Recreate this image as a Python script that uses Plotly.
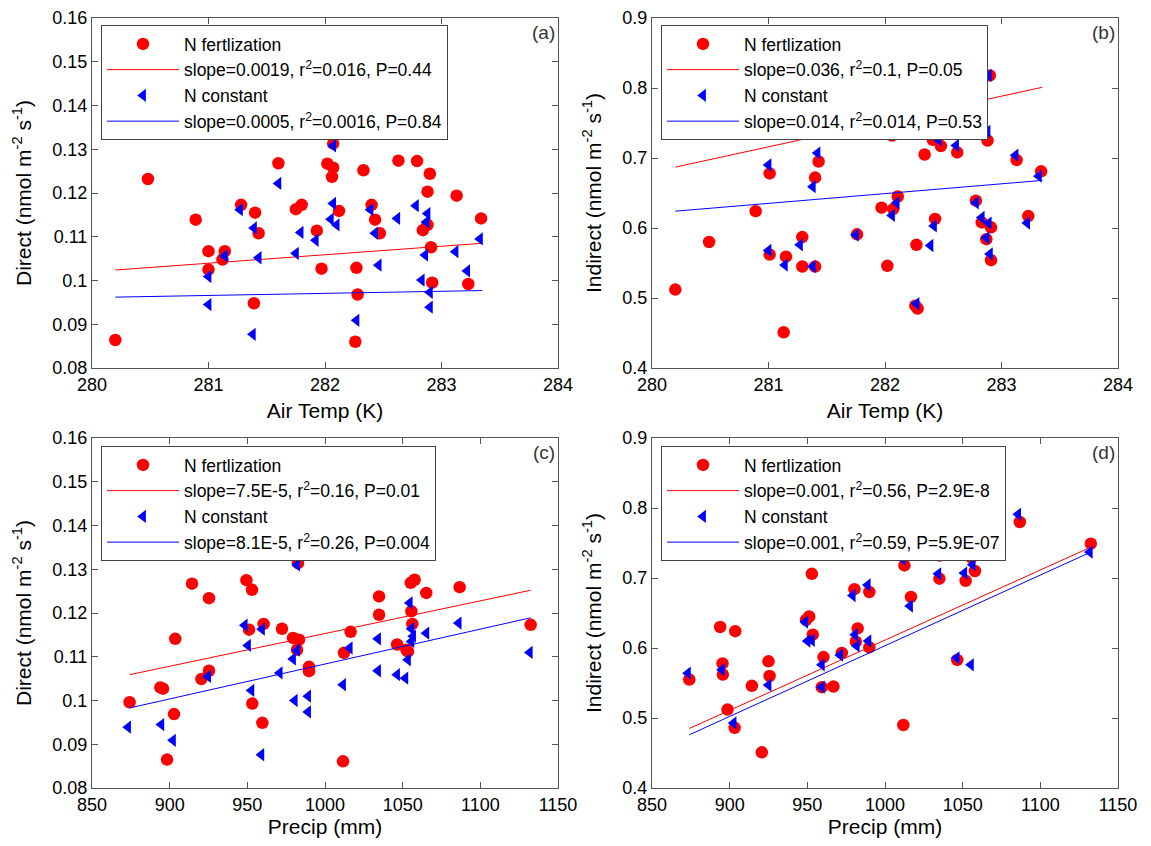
import plotly.graph_objects as go

# ---------------- data ----------------
# Panel (a): Direct vs Air Temp
a_fert_x = [280.20, 280.48, 280.89, 281.00, 281.00, 281.14, 281.12, 281.28, 281.40, 281.43, 281.39, 281.60, 281.75,
            281.80, 281.93, 281.97, 282.02, 282.07, 282.07, 282.06, 282.12, 282.27, 282.28, 282.26, 282.33, 282.40,
            282.43, 282.47, 282.63, 282.79, 282.90, 282.88, 282.84, 282.88, 282.91, 282.92, 283.13, 283.23, 283.34]
a_fert_y = [0.0864, 0.1232, 0.1139, 0.1067, 0.1025, 0.1067, 0.1048, 0.1173, 0.1155, 0.1108, 0.0948, 0.1268, 0.1163,
            0.1173, 0.1114, 0.1027, 0.1267, 0.1313, 0.1258, 0.1237, 0.1159, 0.1029, 0.0968, 0.0860, 0.1252, 0.1173,
            0.1139, 0.1108, 0.1274, 0.1273, 0.1244, 0.1203, 0.1115, 0.1127, 0.1076, 0.0995, 0.1194, 0.0992, 0.1142]
a_const_x = [281.27, 281.39, 281.43, 281.00, 281.00, 281.14, 281.38, 281.60, 281.75, 281.79, 281.92, 282.07, 282.07,
             282.05, 282.10, 282.27, 282.39, 282.43, 282.46, 282.62, 282.78, 282.88, 282.87, 282.86, 282.83, 282.90,
             282.90, 283.12, 283.22, 283.33]
a_const_y = [0.1162, 0.1120, 0.1052, 0.1009, 0.0945, 0.1056, 0.0877, 0.1222, 0.1062, 0.1110, 0.1092, 0.1308, 0.1176,
             0.1140, 0.1127, 0.0909, 0.1162, 0.1108, 0.1035, 0.1142, 0.1171, 0.1153, 0.1134, 0.1058, 0.1001, 0.0973,
             0.0939, 0.1066, 0.1022, 0.1095]
a_fit_x = [280.2, 283.35]
a_fert_fit_y = [0.1024, 0.1085]
a_const_fit_y = [0.0962, 0.0977]

# Panel (b): Indirect vs Air Temp
b_fert_x = [280.20, 280.49, 280.89, 281.01, 281.01, 281.13, 281.15, 281.29, 281.29, 281.40, 281.40, 281.43, 281.76,
            281.97, 282.02, 282.07, 282.11, 282.27, 282.28, 282.26, 282.34, 282.41, 282.48, 282.43, 282.62, 282.78,
            282.83, 282.91, 282.87, 282.91, 282.88, 282.90, 283.13, 283.23, 283.34, 282.06, 281.80]
b_fert_y = [0.512, 0.580, 0.624, 0.678, 0.562, 0.451, 0.559, 0.587, 0.545, 0.545, 0.672, 0.695, 0.591,
            0.629, 0.546, 0.627, 0.645, 0.576, 0.485, 0.489, 0.705, 0.726, 0.717, 0.613, 0.708, 0.639,
            0.608, 0.601, 0.584, 0.554, 0.725, 0.818, 0.697, 0.617, 0.681, 0.732, 0.737]
b_const_x = [281.00, 281.00, 281.14, 281.27, 281.38, 281.38, 281.42, 281.75, 281.80, 281.93, 282.06, 282.06, 282.10,
             282.27, 282.39, 282.42, 282.46, 282.61, 282.78, 282.83, 282.89, 282.87, 282.90, 282.88, 282.89, 283.12,
             283.22, 283.32]
b_const_y = [0.690, 0.568, 0.547, 0.576, 0.545, 0.659, 0.707, 0.590, 0.738, 0.737, 0.735, 0.618, 0.636,
             0.492, 0.575, 0.603, 0.726, 0.718, 0.636, 0.615, 0.607, 0.586, 0.563, 0.738, 0.818, 0.704,
             0.607, 0.674]
b_fit_x = [280.2, 283.35]
b_fert_fit_y = [0.687, 0.801]
b_const_fit_y = [0.624, 0.668]

# Panel (c): Direct vs Precip
c_fert_x = [874.2, 894.0, 895.7, 898.3, 902.8, 903.6, 914.4, 920.4, 925.3, 925.3, 949.4, 953.0, 951.1, 953.2, 959.7,
            960.5, 972.3, 979.4, 983.3, 982.0, 982.6, 989.7, 989.7, 1011.6, 1012.2, 1016.5, 1034.8, 1034.8, 1046.4,
            1052.4, 1055.2, 1057.7, 1055.6, 1056.2, 1053.4, 1065.2, 1086.7, 1132.4]
c_fert_y = [0.0996, 0.1030, 0.1027, 0.0865, 0.0969, 0.1141, 0.1267, 0.1049, 0.1068, 0.1234, 0.1275, 0.1253, 0.1162,
            0.0993, 0.0949, 0.1175, 0.1164, 0.1143, 0.1139, 0.1116, 0.1314, 0.1077, 0.1067, 0.0861, 0.1109, 0.1157,
            0.1238, 0.1196, 0.1128, 0.1116, 0.1269, 0.1276, 0.1204, 0.1175, 0.1112, 0.1246, 0.1259, 0.1173]
c_const_x = [873.2, 894.6, 902.1, 924.7, 948.3, 950.4, 952.6, 959.0, 959.4, 970.8, 979.4, 982.0, 980.5, 982.0, 989.1,
             989.1, 1011.6, 1015.9, 1034.1, 1034.1, 1046.4, 1051.7, 1053.4, 1054.5, 1055.6, 1055.6, 1056.7, 1065.2,
             1086.0, 1131.8]
c_const_y = [0.0939, 0.0945, 0.0909, 0.1055, 0.1172, 0.1126, 0.1023, 0.0876, 0.1163, 0.1063, 0.1095, 0.1115, 0.1000,
             0.1310, 0.1010, 0.0974, 0.1036, 0.1120, 0.1141, 0.1068, 0.1059, 0.1051, 0.1093, 0.1223, 0.1164, 0.1135,
             0.1147, 0.1154, 0.1177, 0.1110]
c_fit_x = [874.2, 1132.4]
c_fert_fit_y = [0.1059, 0.1252]
c_const_fit_y = [0.0983, 0.1189]

# Panel (d): Indirect vs Precip
d_fert_x = [874.0, 893.9, 895.4, 895.6, 898.6, 903.2, 903.6, 914.3, 920.7, 925.0, 925.7, 952.9, 951.2, 953.5, 949.2,
            960.4, 959.3, 966.8, 972.2, 980.3, 982.4, 981.2, 989.9, 989.9, 1011.8, 1012.5, 1016.7, 1035.0, 1035.0,
            1046.5, 1051.9, 1055.7, 1057.9, 1053.0, 1086.8, 1132.5]
d_fert_y = [0.555, 0.630, 0.578, 0.562, 0.512, 0.486, 0.624, 0.546, 0.451, 0.581, 0.560, 0.706, 0.645, 0.619, 0.640,
            0.587, 0.544, 0.545, 0.593, 0.684, 0.628, 0.609, 0.680, 0.601, 0.490, 0.718, 0.673, 0.699, 0.732,
            0.583, 0.696, 0.729, 0.710, 0.740, 0.780, 0.749]
d_const_x = [873.1, 895.0, 902.5, 925.0, 948.6, 950.1, 952.9, 959.3, 959.3, 971.1, 979.2, 980.7, 981.8, 988.9, 989.3,
             1011.4, 1016.1, 1034.3, 1034.3, 1046.1, 1051.0, 1055.3, 1056.4, 1053.6, 1085.7, 1131.8]
d_const_y = [0.564, 0.569, 0.493, 0.547, 0.637, 0.610, 0.611, 0.576, 0.544, 0.590, 0.675, 0.619, 0.603, 0.690, 0.610,
             0.727, 0.660, 0.706, 0.733, 0.586, 0.707, 0.576, 0.719, 0.733, 0.791, 0.737]
d_fit_x = [874.0, 1132.5]
d_fert_fit_y = [0.485, 0.744]
d_const_fit_y = [0.476, 0.737]

# legend texts
fert_name = "N fertlization"
const_name = "N constant"
a_fert_lbl = "slope=0.0019, r<sup>2</sup>=0.016, P=0.44"
a_const_lbl = "slope=0.0005, r<sup>2</sup>=0.0016, P=0.84"
b_fert_lbl = "slope=0.036, r<sup>2</sup>=0.1, P=0.05"
b_const_lbl = "slope=0.014, r<sup>2</sup>=0.014, P=0.53"
c_fert_lbl = "slope=7.5E-5, r<sup>2</sup>=0.16, P=0.01"
c_const_lbl = "slope=8.1E-5, r<sup>2</sup>=0.26, P=0.004"
d_fert_lbl = "slope=0.001, r<sup>2</sup>=0.56, P=2.9E-8"
d_const_lbl = "slope=0.001, r<sup>2</sup>=0.59, P=5.9E-07"

panel_labels = ["(a)", "(b)", "(c)", "(d)"]

temp_ticks = [280, 281, 282, 283, 284]
precip_ticks = [850, 900, 950, 1000, 1050, 1100, 1150]
direct_ticks = [0.08, 0.09, 0.10, 0.11, 0.12, 0.13, 0.14, 0.15, 0.16]
direct_tick_text = ["0.08", "0.09", "0.1", "0.11", "0.12", "0.13", "0.14", "0.15", "0.16"]
indirect_ticks = [0.4, 0.5, 0.6, 0.7, 0.8, 0.9]
indirect_tick_text = ["0.4", "0.5", "0.6", "0.7", "0.8", "0.9"]

# ---------------- figure ----------------
# The page body has an 8px default margin, so the figure is drawn at (8, 8)
# and sized to fill the 1151x846 window exactly.
PAGE_W, PAGE_H = 1151, 846
OFF = 8
W, H = PAGE_W - 2 * OFF, PAGE_H - 2 * OFF
FONT = "Liberation Sans, Arial, sans-serif"
RED = "#ff0000"
BLUE = "#0000ff"


def px(p):
    return (p - OFF) / W


def py(p):
    return (H - (p - OFF)) / H


fig = go.Figure()

panels = [
    ("x", "y", "legend", a_fert_x, a_fert_y, a_const_x, a_const_y, a_fit_x, a_fert_fit_y, a_const_fit_y, a_fert_lbl, a_const_lbl),
    ("x2", "y2", "legend2", b_fert_x, b_fert_y, b_const_x, b_const_y, b_fit_x, b_fert_fit_y, b_const_fit_y, b_fert_lbl, b_const_lbl),
    ("x3", "y3", "legend3", c_fert_x, c_fert_y, c_const_x, c_const_y, c_fit_x, c_fert_fit_y, c_const_fit_y, c_fert_lbl, c_const_lbl),
    ("x4", "y4", "legend4", d_fert_x, d_fert_y, d_const_x, d_const_y, d_fit_x, d_fert_fit_y, d_const_fit_y, d_fert_lbl, d_const_lbl),
]

for i, (xa, ya, lg, fx, fy, cx, cy, lx, lfy, lcy, flbl, clbl) in enumerate(panels):
    fig.add_trace(go.Scatter(x=fx, y=fy, mode="markers", name=fert_name, xaxis=xa, yaxis=ya, legend=lg,
                             legendgroup=f"g{i}a",
                             marker=dict(symbol="circle", size=12.5, color=RED, line=dict(width=0))))
    fig.add_trace(go.Scatter(x=lx, y=lfy, mode="lines", name=flbl, xaxis=xa, yaxis=ya, legend=lg,
                             legendgroup=f"g{i}b",
                             line=dict(color=RED, width=1)))
    fig.add_trace(go.Scatter(x=cx, y=cy, mode="markers", name=const_name, xaxis=xa, yaxis=ya, legend=lg,
                             legendgroup=f"g{i}c",
                             marker=dict(symbol="triangle-left", size=11.5, color=BLUE, line=dict(width=0))))
    fig.add_trace(go.Scatter(x=lx, y=lcy, mode="lines", name=clbl, xaxis=xa, yaxis=ya, legend=lg,
                             legendgroup=f"g{i}d",
                             line=dict(color=BLUE, width=1)))

xl = [px(92), px(558)]
xr = [px(652), px(1118)]
yt = [py(368), py(18)]
yb = [py(788), py(438)]

axis_common = dict(showline=True, linecolor="#555555", linewidth=1, mirror="ticks", ticks="inside",
                   ticklen=6, tickcolor="#555555", showgrid=False, zeroline=False, automargin=False,
                   tickfont=dict(family=FONT, size=18, color="black"))


def xaxis(domain, anchor, rng, ticks, title):
    d = dict(axis_common)
    d.update(domain=domain, anchor=anchor, range=rng, tickvals=ticks, ticktext=[str(t) for t in ticks],
             title=dict(text=title, font=dict(family=FONT, size=21, color="black"), standoff=9))
    return d


def yaxis(domain, anchor, rng, ticks, ticktext, title):
    d = dict(axis_common)
    d.update(domain=domain, anchor=anchor, range=rng, tickvals=ticks, ticktext=ticktext,
             title=dict(text=title, font=dict(family=FONT, size=21, color="black"), standoff=15))
    return d


direct_title = "Direct (nmol m<sup>-2</sup> s<sup>-1</sup>)"
indirect_title = "Indirect (nmol m<sup>-2</sup> s<sup>-1</sup>)"

legend_common = dict(bgcolor="white", bordercolor="#444444", borderwidth=1, xanchor="left", yanchor="top",
                     font=dict(family=FONT, size=17.5, color="black"), itemwidth=72, tracegroupgap=3,
                     traceorder="normal")

fig.update_layout(
    width=W, height=H,
    margin=dict(l=0, r=0, t=0, b=0, autoexpand=False),
    paper_bgcolor="white", plot_bgcolor="white",
    xaxis=xaxis(xl, "y", [280, 284], temp_ticks, "Air Temp (K)"),
    yaxis=yaxis(yt, "x", [0.08, 0.16], direct_ticks, direct_tick_text, direct_title),
    xaxis2=xaxis(xr, "y2", [280, 284], temp_ticks, "Air Temp (K)"),
    yaxis2=yaxis(yt, "x2", [0.4, 0.9], indirect_ticks, indirect_tick_text, indirect_title),
    xaxis3=xaxis(xl, "y3", [850, 1150], precip_ticks, "Precip (mm)"),
    yaxis3=yaxis(yb, "x3", [0.08, 0.16], direct_ticks, direct_tick_text, direct_title),
    xaxis4=xaxis(xr, "y4", [850, 1150], precip_ticks, "Precip (mm)"),
    yaxis4=yaxis(yb, "x4", [0.4, 0.9], indirect_ticks, indirect_tick_text, indirect_title),
    legend=dict(legend_common, x=px(101), y=py(25)),
    legend2=dict(legend_common, x=px(661), y=py(25)),
    legend3=dict(legend_common, x=px(101), y=py(446)),
    legend4=dict(legend_common, x=px(661), y=py(446)),
    showlegend=True,
)

for i, lab in enumerate(panel_labels):
    sfx = "" if i == 0 else str(i + 1)
    fig.add_annotation(text=lab, xref=f"x{sfx} domain", yref=f"y{sfx} domain", x=0.997, y=0.96,
                       xanchor="right", yanchor="middle", showarrow=False,
                       font=dict(family=FONT, size=19, color="#333333"))

fig.write_html("out.html")
